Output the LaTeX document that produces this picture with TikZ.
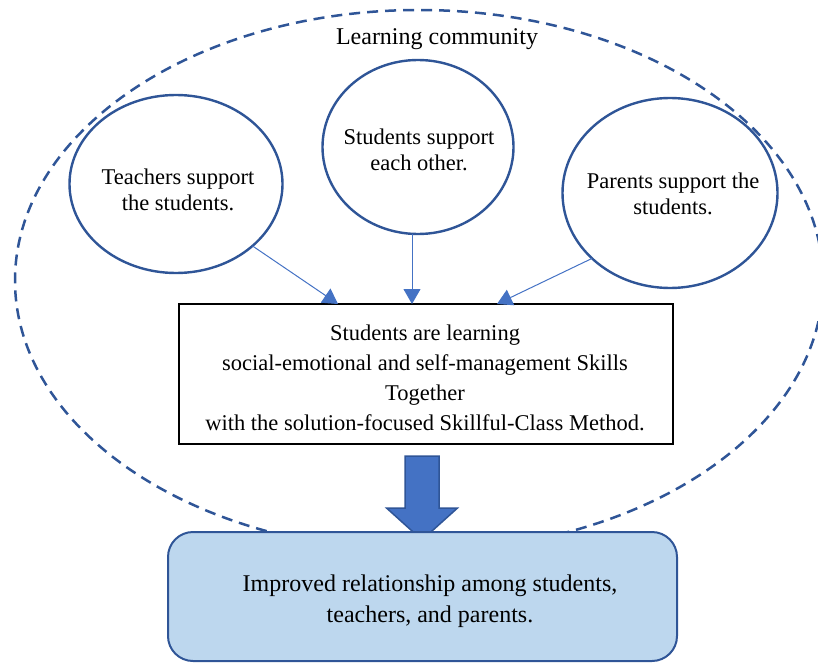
\documentclass[tikz,border=0pt]{standalone}
\usepackage{fontspec}
\setmainfont{Liberation Serif}
\usetikzlibrary{arrows.meta,shapes.geometric}
\definecolor{dkblue}{HTML}{2F5597}
\definecolor{midblue}{HTML}{4472C4}
\definecolor{ltblue}{HTML}{BDD7EE}
\begin{document}
\begin{tikzpicture}[x=1pt,y=-1pt,
  every node/.style={inner sep=0pt, outer sep=0pt},
  txt/.style={align=center, font=\fontsize{22.5}{26}\selectfont},
  bubble/.style={ellipse, draw=dkblue, fill=white, line width=2.4pt},
  conn/.style={midblue, line width=1pt, -{Triangle[width=17pt,length=15pt]}},
  community/.style={dkblue, line width=2.5pt, dash pattern=on 11pt off 7pt}
]
\useasboundingbox (0,0) rectangle (818,663);
\clip (0,0) rectangle (818,663);

% learning community
\draw[community] (419,280.5) ellipse [x radius=404pt, y radius=270.5pt];
\node[anchor=base, font=\fontsize{24}{28}\selectfont] (lc) at (437,45) {Learning community};

% support bubbles
\node[bubble, minimum width=213pt, minimum height=178pt] (t) at (176,184) {};
\node[txt] (tt) at (178,190) {Teachers support\\the students.};
\node[bubble, minimum width=191pt, minimum height=174pt] (s) at (418,147) {};
\node[txt] (st) at (419,150) {Students support\\each other.};
\node[bubble, minimum width=215pt, minimum height=190pt] (p) at (670,193) {};
\node[txt] (pt) at (673,194) {Parents support the\\students.};

% central box
\node[draw=black, fill=white, line width=1.3pt, minimum width=494pt, minimum height=140pt] (m) at (426,374) {};
\node[align=center, font=\fontsize{22.5}{30}\selectfont] (mt) at (425,378)
  {Students are learning\\social-emotional and self-management Skills\\Together\\with the solution-focused Skillful-Class Method.};

% connectors
\coordinate (a1) at (338,304);
\coordinate (a2) at (412,304);
\coordinate (a3) at (497,304);
\draw[conn] (t.-39.4) -- (a1);
\draw[conn] (a2 |- s.south) -- (a2);
\draw[conn] (p.220.6) -- (a3);

% block arrow
\draw[dkblue, fill=midblue, line width=1.5pt, line join=miter]
  (405,456) -- (439,456) -- (439,508) -- (457.5,508) -- (422,540)
  -- (386.5,508) -- (405,508) -- cycle;

% result box
\node[draw=dkblue, fill=ltblue, line width=2pt, rounded corners=25pt,
      minimum width=509pt, minimum height=129pt] (r) at (422.5,596.5) {};
\node[align=center, font=\fontsize{24}{31}\selectfont] (rt) at (430,601)
  {Improved relationship among students,\\teachers, and parents.};
\end{tikzpicture}
\end{document}
